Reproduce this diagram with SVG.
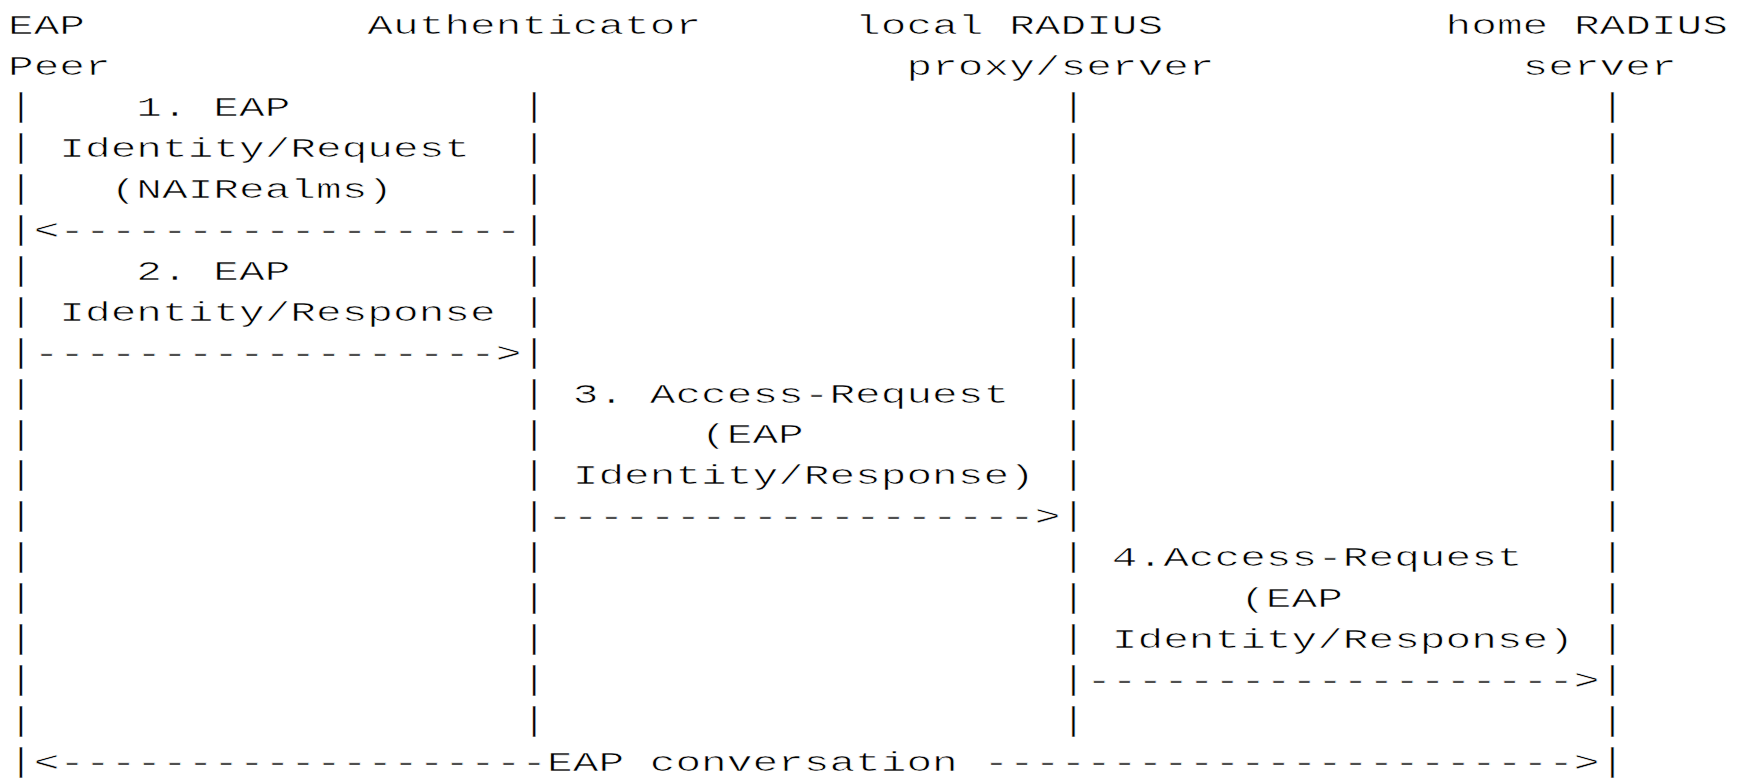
<svg xmlns="http://www.w3.org/2000/svg" width="1744" height="778" viewBox="0 0 1744 778">
<style>
text{font-family:"Liberation Mono","Courier New",monospace;font-size:27px;fill:#000;white-space:pre;stroke:#fff;stroke-width:0.6px;paint-order:fill}
text.lf{font-size:33px;text-anchor:middle;stroke-width:0.3px}
</style>
<rect width="1744" height="778" fill="#fff"/>
<g transform="translate(0 3)">
<g id="peer">
<text class="lf" x="20.8"><tspan y="112.9">|</tspan><tspan x="20.8" y="153.85">|</tspan><tspan x="20.8" y="194.8">|</tspan><tspan x="20.8" y="235.75">|</tspan><tspan x="20.8" y="276.7">|</tspan><tspan x="20.8" y="317.65">|</tspan><tspan x="20.8" y="358.6">|</tspan><tspan x="20.8" y="399.55">|</tspan><tspan x="20.8" y="440.5">|</tspan><tspan x="20.8" y="481.45">|</tspan><tspan x="20.8" y="522.4">|</tspan><tspan x="20.8" y="563.35">|</tspan><tspan x="20.8" y="604.3">|</tspan><tspan x="20.8" y="645.25">|</tspan><tspan x="20.8" y="686.2">|</tspan><tspan x="20.8" y="727.15">|</tspan><tspan x="20.8" y="768.1">|</tspan></text>
<text transform="translate(8 0) scale(1.5846 1)" x="0" y="31">EAP</text>
<text transform="translate(8 0) scale(1.5846 1)" x="0" y="72">Peer</text>
</g>
<g id="authenticator">
<text class="lf" x="534.2"><tspan y="112.9">|</tspan><tspan x="534.2" y="153.85">|</tspan><tspan x="534.2" y="194.8">|</tspan><tspan x="534.2" y="235.75">|</tspan><tspan x="534.2" y="276.7">|</tspan><tspan x="534.2" y="317.65">|</tspan><tspan x="534.2" y="358.6">|</tspan><tspan x="534.2" y="399.55">|</tspan><tspan x="534.2" y="440.5">|</tspan><tspan x="534.2" y="481.45">|</tspan><tspan x="534.2" y="522.4">|</tspan><tspan x="534.2" y="563.35">|</tspan><tspan x="534.2" y="604.3">|</tspan><tspan x="534.2" y="645.25">|</tspan><tspan x="534.2" y="686.2">|</tspan><tspan x="534.2" y="727.15">|</tspan></text>
<text transform="translate(8 0) scale(1.5846 1)" x="226.8" y="31">Authenticator</text>
</g>
<g id="local-radius">
<text class="lf" x="1073.3"><tspan y="112.9">|</tspan><tspan x="1073.3" y="153.85">|</tspan><tspan x="1073.3" y="194.8">|</tspan><tspan x="1073.3" y="235.75">|</tspan><tspan x="1073.3" y="276.7">|</tspan><tspan x="1073.3" y="317.65">|</tspan><tspan x="1073.3" y="358.6">|</tspan><tspan x="1073.3" y="399.55">|</tspan><tspan x="1073.3" y="440.5">|</tspan><tspan x="1073.3" y="481.45">|</tspan><tspan x="1073.3" y="522.4">|</tspan><tspan x="1073.3" y="563.35">|</tspan><tspan x="1073.3" y="604.3">|</tspan><tspan x="1073.3" y="645.25">|</tspan><tspan x="1073.3" y="686.2">|</tspan><tspan x="1073.3" y="727.15">|</tspan></text>
<text transform="translate(8 0) scale(1.5846 1)" x="534.6" y="31">local RADIUS</text>
<text transform="translate(8 0) scale(1.5846 1)" x="567" y="72">proxy/server</text>
</g>
<g id="home-radius">
<text class="lf" x="1612.4"><tspan y="112.9">|</tspan><tspan x="1612.4" y="153.85">|</tspan><tspan x="1612.4" y="194.8">|</tspan><tspan x="1612.4" y="235.75">|</tspan><tspan x="1612.4" y="276.7">|</tspan><tspan x="1612.4" y="317.65">|</tspan><tspan x="1612.4" y="358.6">|</tspan><tspan x="1612.4" y="399.55">|</tspan><tspan x="1612.4" y="440.5">|</tspan><tspan x="1612.4" y="481.45">|</tspan><tspan x="1612.4" y="522.4">|</tspan><tspan x="1612.4" y="563.35">|</tspan><tspan x="1612.4" y="604.3">|</tspan><tspan x="1612.4" y="645.25">|</tspan><tspan x="1612.4" y="686.2">|</tspan><tspan x="1612.4" y="727.15">|</tspan><tspan x="1612.4" y="768.1">|</tspan></text>
<text transform="translate(8 0) scale(1.5846 1)" x="907.2" y="31">home RADIUS</text>
<text transform="translate(8 0) scale(1.5846 1)" x="955.8" y="72">server</text>
</g>
<g id="connectors" transform="translate(8 0) scale(1.5846 1)">
<text x="81" y="112.9">1. EAP</text>
<text x="32.4" y="153.85">Identity/Request</text>
<text x="64.8" y="194.8">(NAIRealms)</text>
<text x="16.2" y="235.75">&lt;------------------</text>
<text x="81" y="276.7">2. EAP</text>
<text x="32.4" y="317.65">Identity/Response</text>
<text x="16.2" y="358.6">------------------&gt;</text>
<text x="356.4" y="399.55">3. Access-Request</text>
<text x="437.4" y="440.5">(EAP</text>
<text x="356.4" y="481.45">Identity/Response)</text>
<text x="340.2" y="522.4">-------------------&gt;</text>
<text x="696.6" y="563.35">4.Access-Request</text>
<text x="777.6" y="604.3">(EAP</text>
<text x="696.6" y="645.25">Identity/Response)</text>
<text x="680.4" y="686.2">-------------------&gt;</text>
<text x="16.2" y="768.1" xml:space="preserve">&lt;-------------------EAP conversation -----------------------&gt;</text>
</g>
</g>
</svg>
